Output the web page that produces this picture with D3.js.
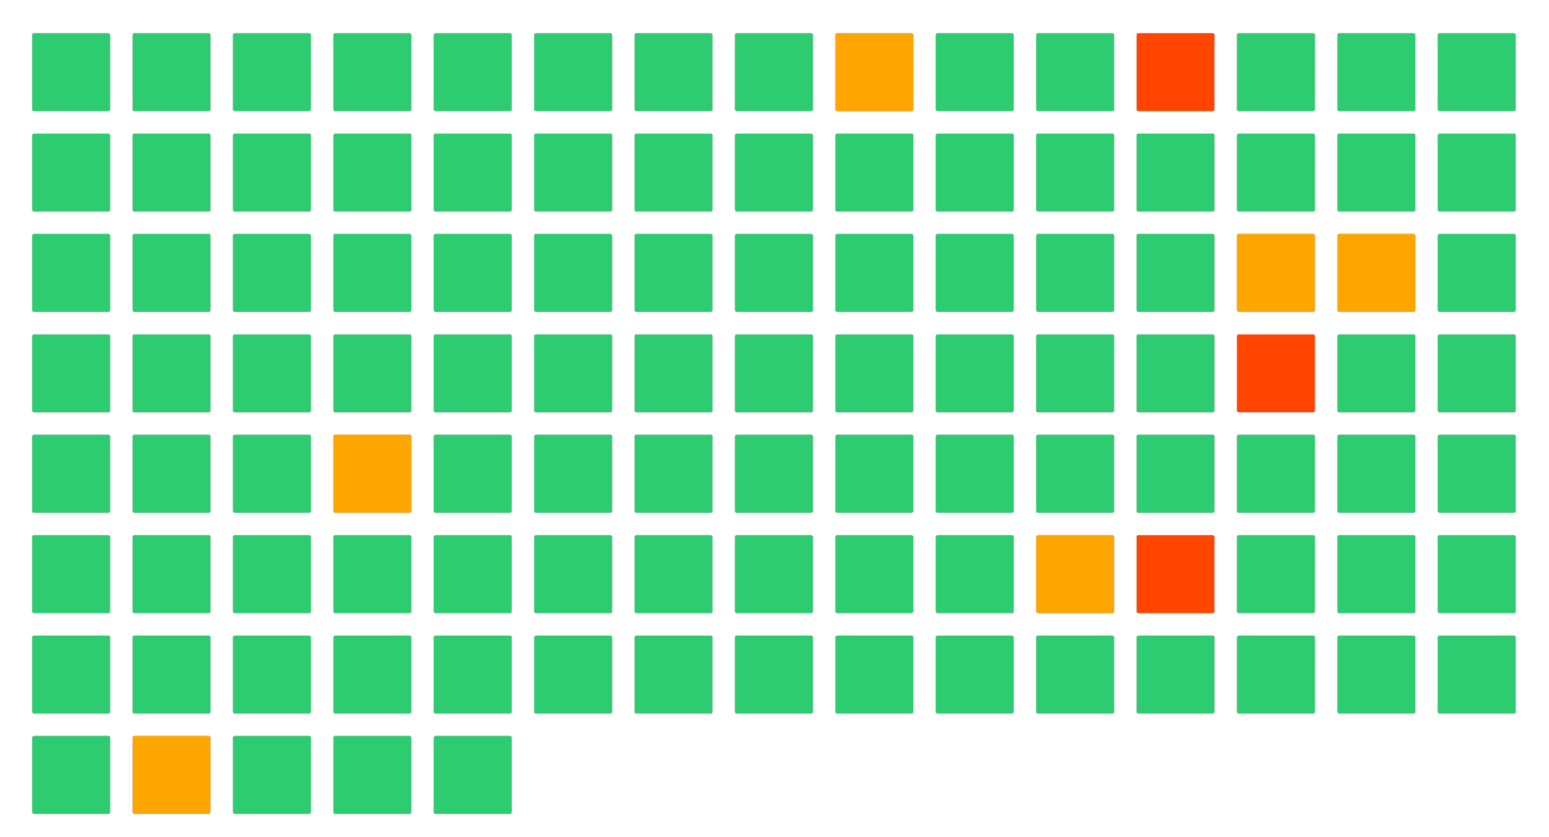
<!DOCTYPE html>
<html>
<head>
<meta charset="utf-8">
<script src="https://d3js.org/d3.v7.min.js"></script>
<style>
  body { margin: 0; background: #fff; }
</style>
</head>
<body>
<div id="grid"></div>
<script>
// status of each cell, row by row (0 = ok, 1 = warning, 2 = error)
let statuses = [
    0,0,0,0,0,0,0,0,1,0,0,2,0,0,0,
    0,0,0,0,0,0,0,0,0,0,0,0,0,0,0,
    0,0,0,0,0,0,0,0,0,0,0,0,1,1,0,
    0,0,0,0,0,0,0,0,0,0,0,0,2,0,0,
    0,0,0,1,0,0,0,0,0,0,0,0,0,0,0,
    0,0,0,0,0,0,0,0,0,0,1,2,0,0,0,
    0,0,0,0,0,0,0,0,0,0,0,0,0,0,0,
    0,1,0,0,0
];
let statusNames = ["ok", "warning", "error"];
let statusColors = ["#2ecc71", "#ffa500", "#ff4500"];

let COLS = 15;
let rows = Math.ceil(statuses.length / COLS);

let width = 1549, height = 837;
let margin = {top: 33, left: 32};
let step = 100.4;

let x = d3.scaleBand()
    .domain(d3.range(COLS))
    .range([margin.left, margin.left + COLS * step - 0.22 * step])
    .paddingInner(0.22);
let y = d3.scaleBand()
    .domain(d3.range(rows))
    .range([margin.top, margin.top + rows * step - 0.22 * step])
    .paddingInner(0.22);
let color = d3.scaleOrdinal().domain(d3.range(3)).range(statusColors);

let svg = d3.select("#grid").append("svg")
    .attr("width", width)
    .attr("height", height);

svg.append("g").selectAll("rect")
    .data(statuses)
    .enter().append("rect")
    .attr("class", (d) => "cell " + statusNames[d])
    .attr("x", (d, i) => x(i % COLS))
    .attr("y", (d, i) => y(Math.floor(i / COLS)))
    .attr("width", x.bandwidth())
    .attr("height", y.bandwidth())
    .attr("rx", 2)
    .attr("fill", (d) => color(d))
    .attr("stroke", "#d8d8d8")
    .attr("stroke-width", 0.6);
</script>
</body>
</html>
